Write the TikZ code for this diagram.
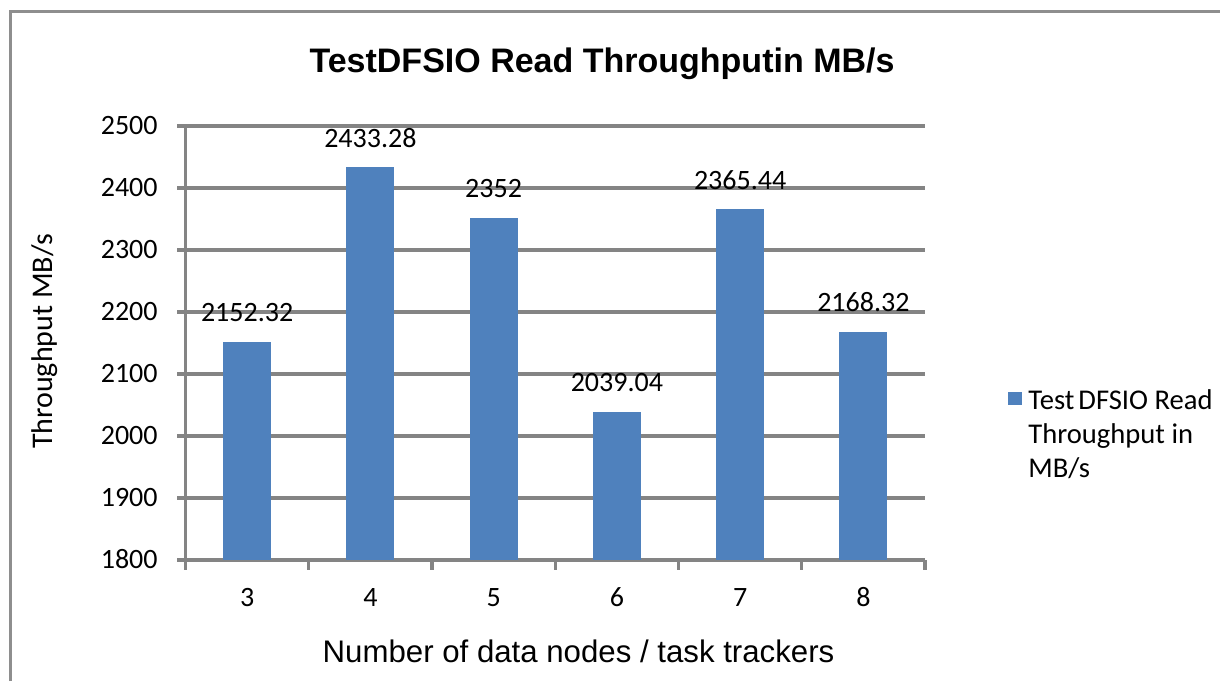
\documentclass[tikz,border=0pt]{standalone}
\usepackage{fontspec}
\setmainfont{Carlito}
\newfontfamily\arialfont{Liberation Sans}
\definecolor{barblue}{HTML}{4F81BD}
\definecolor{gridgray}{HTML}{848484}
\definecolor{framegray}{HTML}{8E8E8E}

\begin{document}
\begin{tikzpicture}[x=0.5pt,y=-0.5pt,
  gridline/.style={draw=gridgray,line width=1.6pt},
  barbox/.style={fill=barblue,draw=none},
  ticklabel/.style={font=\fontsize{14}{16}\selectfont,inner sep=0pt},
  datalabel/.style={font=\fontsize{14}{16}\selectfont,inner sep=0pt,anchor=base},
  charttitle/.style={font=\arialfont\bfseries\fontsize{17}{20}\selectfont,inner sep=0pt,anchor=base},
  axistitle/.style={font=\fontsize{15}{18}\selectfont,inner sep=0pt,anchor=base},
  xaxistitle/.style={font=\arialfont\fontsize{15.6}{18}\selectfont,inner sep=0pt,anchor=base},
  legendtext/.style={font=\fontsize{14.3}{17}\selectfont,inner sep=0pt,align=left,anchor=north west}
]
\useasboundingbox (0,0) rectangle (1220,681);

% outer chart frame (continues past the right and bottom edges)
\draw[framegray,line width=1.5pt] (10,681) -- (10,11) -- (1220,11);

% horizontal gridlines and left ticks, 1800..2500
\foreach \v in {1800,1900,...,2500}{
  \pgfmathsetmacro{\yy}{560-(\v-1800)*0.62}
  \draw[gridline] (177,\yy) -- (925,\yy);
  \node[ticklabel,anchor=base east] (ytick\v) at (158,\yy+8.5) {\v};
}

% vertical axis
\draw[gridline] (185.5,126) -- (185.5,570);

% category ticks below the horizontal axis
\foreach \k in {0,...,6}{
  \pgfmathsetmacro{\xx}{185.5+\k*123.25}
  \draw[gridline] (\xx,560) -- (\xx,570);
}

% bars, value labels and category labels
\foreach \k/\c/\v in {0/3/2152.32,1/4/2433.28,2/5/2352,3/6/2039.04,4/7/2365.44,5/8/2168.32}{
  \pgfmathsetmacro{\xc}{185.5+(\k+0.5)*123.25}
  \pgfmathsetmacro{\yt}{560-(\v-1800)*0.62}
  \fill[barblue] (\xc-24,\yt) rectangle (\xc+24,560);
  \node[datalabel] (val\c) at (\xc,\yt-20) {\v};
  \node[datalabel] (cat\c) at (\xc,606) {\c};
}

% titles
\node[charttitle] (title) at (602,72) {TestDFSIO Read Throughputin MB/s};
\node[axistitle,rotate=90] (ytitle) at (52,341.5) {Throughput MB/s};
\node[xaxistitle] (xtitle) at (578.5,662) {Number of data nodes / task trackers};

% legend
\fill[barblue] (1008,392) rectangle (1022,405) coordinate (legkey);
\node[legendtext] (legend) at (1028,389) {Test\kern2pt DFSIO Read\\Throughput in\\MB/s};
\end{tikzpicture}
\end{document}
